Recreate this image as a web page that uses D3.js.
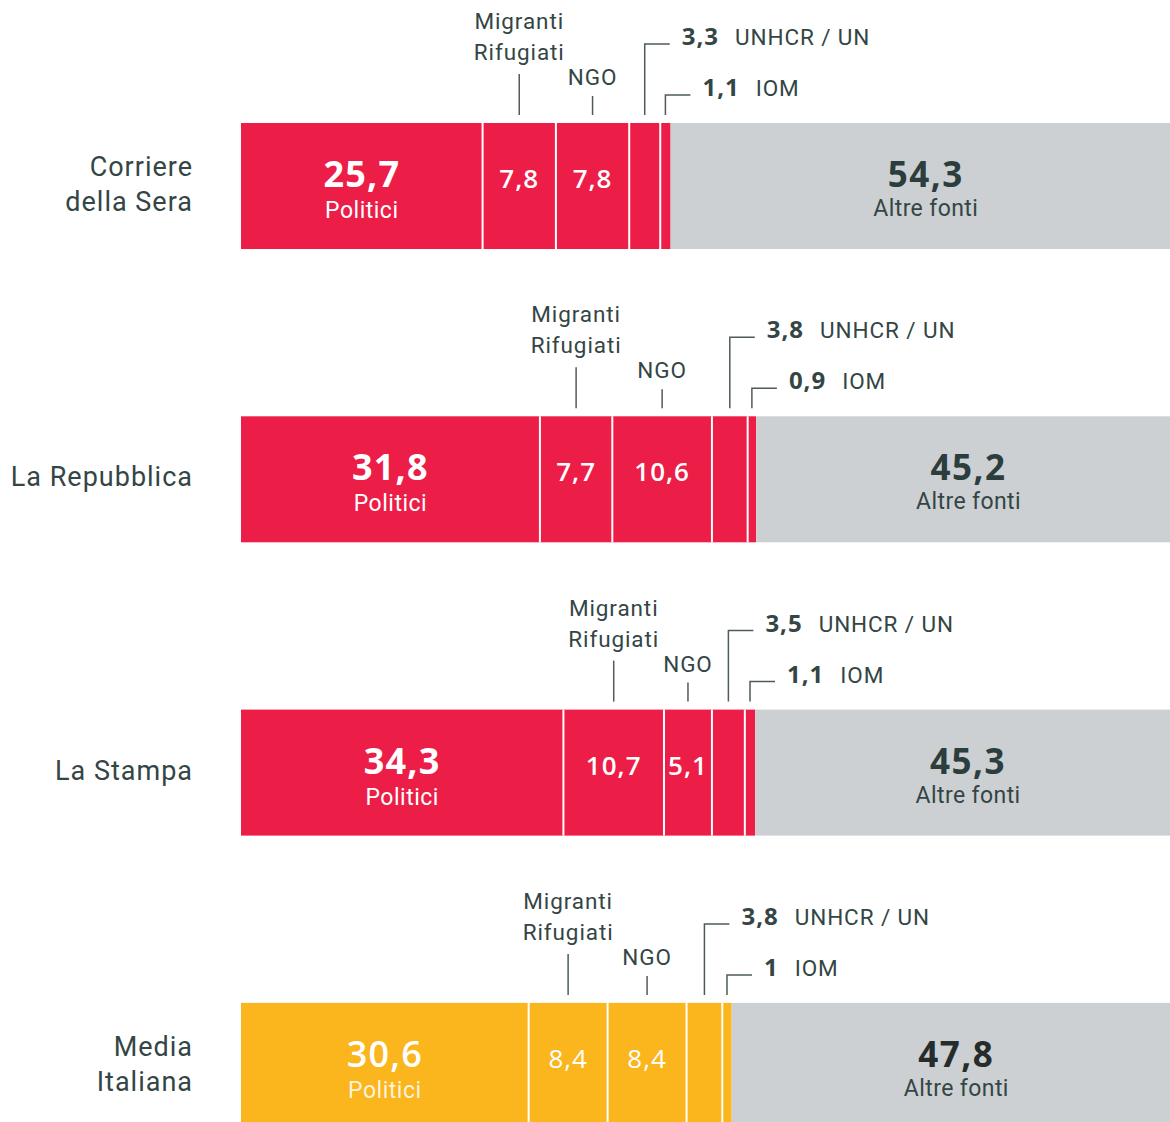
<!DOCTYPE html>
<html>
<head>
<meta charset="utf-8">
<script src="https://cdn.jsdelivr.net/npm/d3@7"></script>
<style>
  body { margin: 0; background: #fff; }
  svg { display: block; }
</style>
</head>
<body>
<div id="chart"></div>
<script>
var svgWidth = 1170;
var svgHeight = 1122;

// data
var outlets = ["Corriere della Sera", "La Repubblica", "La Stampa", "Media Italiana"];
var outletLines = [["Corriere", "della Sera"], ["La Repubblica"], ["La Stampa"], ["Media", "Italiana"]];
var politici = [25.7, 31.8, 34.3, 30.6];
var migranti = [7.8, 7.7, 10.7, 8.4];
var ngo = [7.8, 10.6, 5.1, 8.4];
var unhcr = [3.3, 3.8, 3.5, 3.8];
var iom = [1.1, 0.9, 1.1, 1];
var altre = [54.3, 45.2, 45.3, 47.8];

var textColor = "#344545";
var lineColor = "#4f5b5b";
var red = "#ec1d47";
var yellow = "#fbb51d";
var grey = "#ccd0d2";

var it = d3.formatLocale({ decimal: ",", thousands: ".", grouping: [3], currency: ["", "€"] });
var fmt = it.format(".1~f");

var barHeight = 126;

var x = d3.scaleLinear().domain([0, 100]).range([241, 1181]);
var y = d3.scaleBand().domain(outlets).range([123, 123 + 4 * 293.3]).paddingInner(0);

var svg = d3
  .select("#chart")
  .append("svg")
  .attr("width", svgWidth)
  .attr("height", svgHeight);

var rows = svg
  .selectAll("g.row")
  .data(outlets)
  .enter()
  .append("g")
  .attr("class", "row")
  .attr("transform", d => `translate(0, ${y(d)})`);

rows.each(function(name, i) {
  var g = d3.select(this);
  var fill = i === 3 ? yellow : red;
  var vals = [politici[i], migranti[i], ngo[i], unhcr[i], iom[i], altre[i]];
  var starts = [];
  var acc = 0;
  vals.forEach(function(v) { starts.push(acc); acc += v; });

  // segments
  g.selectAll("rect")
    .data(vals)
    .enter()
    .append("rect")
    .attr("x", (v, k) => x(starts[k]))
    .attr("y", 0)
    .attr("width", (v, k) => x(starts[k] + v) - x(starts[k]))
    .attr("height", barHeight)
    .attr("fill", (v, k) => k === 5 ? grey : fill);

  // white dividers between coloured segments
  g.selectAll("line.div")
    .data([1, 2, 3, 4])
    .enter()
    .append("line")
    .attr("class", "div")
    .attr("x1", k => x(starts[k]))
    .attr("x2", k => x(starts[k]))
    .attr("y1", 0)
    .attr("y2", barHeight)
    .attr("stroke", "#fff")
    .attr("stroke-width", 2);

  var mid = k => x(starts[k] + vals[k] / 2);

  // outlet name
  var nLines = outletLines[i].length;
  g.selectAll("text.name")
    .data(outletLines[i])
    .enter()
    .append("text")
    .attr("class", "name")
    .attr("x", 193)
    .attr("y", (t, j) => nLines === 1 ? 70 : 53 + j * 35)
    .attr("text-anchor", "end")
    .attr("font-family", "Roboto, sans-serif")
    .attr("font-size", 27)
    .attr("letter-spacing", 1)
    .attr("fill", textColor)
    .text(t => t);

  // Politici
  g.append("text")
    .attr("x", mid(0))
    .attr("y", 64)
    .attr("text-anchor", "middle")
    .attr("font-family", "'Open Sans', sans-serif")
    .attr("font-weight", i === 3 ? 600 : 700)
    .attr("font-size", 36)
    .attr("letter-spacing", 1.2)
    .attr("fill", "#fff")
    .text(fmt(politici[i]));
  g.append("text")
    .attr("x", mid(0))
    .attr("y", 95)
    .attr("text-anchor", "middle")
    .attr("font-family", "Roboto, sans-serif")
    .attr("font-size", 23)
    .attr("letter-spacing", 0.5)
    .attr("fill", "#fff")
    .attr("fill-opacity", i === 3 ? 0.85 : 1)
    .text("Politici");

  // Migranti and NGO values inside bar
  [1, 2].forEach(function(k) {
    g.append("text")
      .attr("x", mid(k))
      .attr("y", 65)
      .attr("text-anchor", "middle")
      .attr("font-family", "'Open Sans', sans-serif")
      .attr("font-weight", i === 3 ? 500 : 600)
      .attr("font-size", 26)
      .attr("letter-spacing", 1)
      .attr("fill", "#fff")
      .text(fmt(vals[k]));
  });

  // Altre fonti
  g.append("text")
    .attr("x", mid(5))
    .attr("y", 64)
    .attr("text-anchor", "middle")
    .attr("font-family", "'Open Sans', sans-serif")
    .attr("font-weight", 700)
    .attr("font-size", 35)
    .attr("letter-spacing", 1.5)
    .attr("fill", i === 3 ? "#262b2b" : "#2c3d3d")
    .text(fmt(altre[i]));
  g.append("text")
    .attr("x", mid(5))
    .attr("y", 93)
    .attr("text-anchor", "middle")
    .attr("font-family", "Roboto, sans-serif")
    .attr("font-size", 23)
    .attr("letter-spacing", 0.4)
    .attr("fill", textColor)
    .text("Altre fonti");

  // labels above the bar
  var small = function(sel) {
    return sel
      .attr("font-family", "Roboto, sans-serif")
      .attr("font-size", 22.5)
      .attr("letter-spacing", 0.9)
      .attr("fill", textColor);
  };

  small(g.append("text"))
    .attr("x", mid(1))
    .attr("y", -94)
    .attr("text-anchor", "middle")
    .text("Migranti");
  small(g.append("text"))
    .attr("x", mid(1))
    .attr("y", -63)
    .attr("text-anchor", "middle")
    .text("Rifugiati");
  small(g.append("text"))
    .attr("x", mid(2))
    .attr("y", -38)
    .attr("text-anchor", "middle")
    .text("NGO");

  g.append("line")
    .attr("x1", mid(1)).attr("x2", mid(1))
    .attr("y1", -49).attr("y2", -8)
    .attr("stroke", lineColor).attr("stroke-width", 1.5);
  g.append("line")
    .attr("x1", mid(2)).attr("x2", mid(2))
    .attr("y1", -27).attr("y2", -8)
    .attr("stroke", lineColor).attr("stroke-width", 1.5);

  // elbow callouts for UNHCR and IOM
  [[3, -79, "UNHCR / UN"], [4, -28, "IOM"]].forEach(function(c) {
    var k = c[0], top = c[1];
    var cx = mid(k);
    g.append("path")
      .attr("d", `M${cx},-8V${top}H${cx + 25}`)
      .attr("fill", "none")
      .attr("stroke", lineColor)
      .attr("stroke-width", 1.5);
    var num = g.append("text")
      .attr("x", cx + 37)
      .attr("y", top + 1)
      .attr("font-family", "'Open Sans', sans-serif")
      .attr("font-weight", 700)
      .attr("font-size", 24)
      .attr("letter-spacing", 1)
      .attr("fill", textColor)
      .text(fmt(vals[k]));
    var w = num.node().getComputedTextLength();
    small(g.append("text"))
      .attr("x", cx + 37 + w + 16)
      .attr("y", top + 1)
      .text(c[2]);
  });
});
</script>
</body>
</html>
